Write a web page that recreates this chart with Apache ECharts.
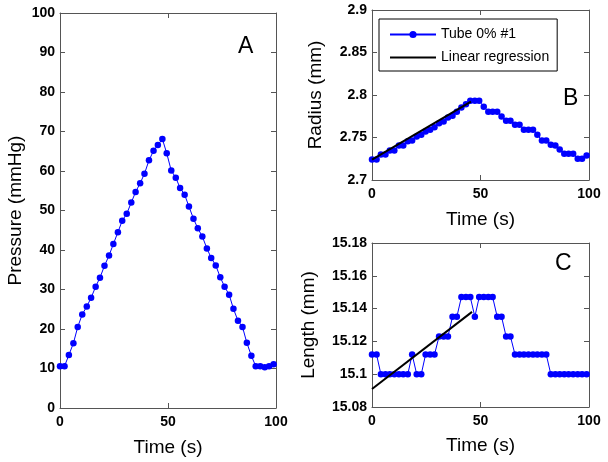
<!DOCTYPE html>
<html><head><meta charset="utf-8">
<script src="https://cdn.jsdelivr.net/npm/echarts@6/dist/echarts.min.js"></script>
<style>html,body{margin:0;padding:0;background:#fff}#c{width:608px;height:462px}</style>
</head><body><div id="c"></div>
<script>
// ---- data ----
const time = [0, 2.1, 4.1, 6.2, 8.2, 10.3, 12.4, 14.4, 16.5, 18.5, 20.6, 22.7, 24.7, 26.8, 28.8, 30.9, 33.0, 35.0, 37.1, 39.1, 41.2, 43.3, 45.3, 47.4, 49.4, 51.5, 53.6, 55.6, 57.7, 59.7, 61.8, 63.8, 65.9, 68.0, 70.0, 72.1, 74.2, 76.2, 78.3, 80.3, 82.4, 84.5, 86.5, 88.6, 90.6, 92.7, 94.8, 96.8, 98.9];
const pressure = [10.6, 10.6, 13.4, 16.4, 20.5, 23.7, 25.7, 27.9, 30.7, 33.0, 36.0, 38.6, 41.5, 44.5, 47.4, 49.2, 52.0, 54.7, 56.9, 59.3, 62.7, 65.1, 66.6, 68.1, 64.5, 60.1, 58.3, 55.7, 54.0, 51.0, 47.9, 45.5, 43.4, 40.4, 38.0, 36.1, 33.1, 30.7, 28.7, 25.1, 22.1, 20.5, 16.5, 13.2, 10.6, 10.6, 10.3, 10.6, 11.1];
const radius = [2.7241, 2.7241, 2.7299, 2.7299, 2.7348, 2.7348, 2.7406, 2.7406, 2.7455, 2.7465, 2.7513, 2.7532, 2.7571, 2.7591, 2.7620, 2.7668, 2.7688, 2.7736, 2.7756, 2.7804, 2.7853, 2.7892, 2.7931, 2.7931, 2.7931, 2.7862, 2.7804, 2.7804, 2.7804, 2.7746, 2.7698, 2.7698, 2.7649, 2.7649, 2.7591, 2.7591, 2.7591, 2.7532, 2.7465, 2.7465, 2.7416, 2.7406, 2.7358, 2.7309, 2.7309, 2.7309, 2.7251, 2.7251, 2.7289];
const lengthMm = [15.112, 15.112, 15.100, 15.100, 15.100, 15.100, 15.100, 15.100, 15.100, 15.112, 15.100, 15.100, 15.112, 15.112, 15.112, 15.123, 15.123, 15.123, 15.135, 15.135, 15.147, 15.147, 15.147, 15.135, 15.147, 15.147, 15.147, 15.147, 15.135, 15.135, 15.123, 15.123, 15.112, 15.112, 15.112, 15.112, 15.112, 15.112, 15.112, 15.112, 15.100, 15.100, 15.100, 15.100, 15.100, 15.100, 15.100, 15.100, 15.100];
const radiusFitTime = [0, 45.6];
const radiusFit = [2.7241, 2.7921];
const lengthFitTime = [0, 46.1];
const lengthFit = [15.091, 15.138];
const timeTicks = [0, 50, 100];
const pressureTicks = [0, 10, 20, 30, 40, 50, 60, 70, 80, 90, 100];
const radiusTicks = [2.7, 2.75, 2.8, 2.85, 2.9];
const lengthTicks = [15.08, 15.1, 15.12, 15.14, 15.16, 15.18];
const seriesName = 'Tube 0% #1';
const fitName = 'Linear regression';

// ---- helpers ----
const FONT = 'Liberation Sans, Arial, Helvetica, sans-serif';
const AX = '#555';
const zip = (xs, ys) => xs.map((x, i) => [x, ys[i]]);
const fmt = v => String(+(+v).toFixed(4));
function range(ticks) {
  return { min: ticks[0], max: ticks[ticks.length - 1], interval: +(ticks[1] - ticks[0]).toFixed(6) };
}
function xAxes(grid, ticks, gap) {
  const r = range(ticks);
  const base = {
    gridIndex: grid, type: 'value', min: r.min, max: r.max, interval: r.interval,
    axisLine: { show: true, onZero: false, lineStyle: { color: AX, width: 1 } },
    axisTick: { show: true, inside: true, length: 5, lineStyle: { color: AX } },
    splitLine: { show: false }
  };
  return [
    Object.assign({}, base, {
      position: 'bottom',
      axisLabel: { show: true, margin: 7, color: '#000', fontSize: 14, fontWeight: 'bold', fontFamily: FONT, formatter: fmt },
      name: 'Time (s)', nameLocation: 'middle', nameGap: gap,
      nameTextStyle: { color: '#000', fontSize: 19, fontFamily: FONT }
    }),
    Object.assign({}, base, { position: 'top', axisLabel: { show: false } })
  ];
}
function yAxes(grid, ticks, title, gap) {
  const r = range(ticks);
  const base = {
    gridIndex: grid, type: 'value', min: r.min, max: r.max, interval: r.interval,
    axisLine: { show: true, onZero: false, lineStyle: { color: AX, width: 1 } },
    axisTick: { show: true, inside: true, length: 5, lineStyle: { color: AX } },
    splitLine: { show: false }
  };
  return [
    Object.assign({}, base, {
      position: 'left',
      axisLabel: { show: true, margin: 5, color: '#000', fontSize: 14, fontWeight: 'bold', fontFamily: FONT, formatter: fmt },
      name: title, nameLocation: 'middle', nameGap: gap,
      nameTextStyle: { color: '#000', fontSize: 19, fontFamily: FONT }
    }),
    Object.assign({}, base, { position: 'right', axisLabel: { show: false } })
  ];
}
function dots(name, xi, yi, data) {
  return {
    name: name, type: 'line', xAxisIndex: xi, yAxisIndex: yi, data: data,
    symbol: 'circle', symbolSize: 6.5, showSymbol: true,
    itemStyle: { color: '#0000ff' }, lineStyle: { color: '#0000ff', width: 1 },
    emphasis: { disabled: true }, z: 2
  };
}
function fit(name, xi, yi, data) {
  return {
    name: name, type: 'line', xAxisIndex: xi, yAxisIndex: yi, data: data,
    symbol: 'none', showSymbol: false,
    itemStyle: { color: '#000' }, lineStyle: { color: '#000', width: 2 },
    emphasis: { disabled: true }, z: 3
  };
}

const chart = echarts.init(document.getElementById('c'), null, { renderer: 'canvas' });
chart.setOption({
  animation: false,
  backgroundColor: '#fff',
  textStyle: { fontFamily: FONT },
  grid: [
    { left: 60, top: 13, width: 216, height: 395 },
    { left: 372, top: 10, width: 217, height: 170 },
    { left: 372, top: 243, width: 217, height: 164 }
  ],
  xAxis: [].concat(xAxes(0, timeTicks, 30), xAxes(1, timeTicks, 30), xAxes(2, timeTicks, 29)),
  yAxis: [].concat(
    yAxes(0, pressureTicks, 'Pressure (mmHg)', 35),
    yAxes(1, radiusTicks, 'Radius (mm)', 47),
    yAxes(2, lengthTicks, 'Length (mm)', 54)
  ),
  legend: {
    data: [
      { name: seriesName },
      { name: fitName, itemStyle: { opacity: 0 } }
    ],
    orient: 'vertical', left: 379, top: 19,
    backgroundColor: '#fff', borderColor: '#000', borderWidth: 1, borderRadius: 0,
    padding: [8, 8, 6, 10], itemGap: 8, itemWidth: 46, itemHeight: 9,
    textStyle: { color: '#000', fontSize: 14, fontFamily: FONT, lineHeight: 15 },
    selectedMode: false
  },
  series: [
    dots('pressureA', 0, 0, zip(time, pressure)),
    dots(seriesName, 2, 2, zip(time, radius)),
    fit(fitName, 2, 2, zip(radiusFitTime, radiusFit)),
    dots('lengthC', 4, 4, zip(time, lengthMm)),
    fit('lengthFitC', 4, 4, zip(lengthFitTime, lengthFit))
  ],
  graphic: [
    { type: 'text', left: 238, top: 35, style: { text: 'A', fontSize: 23, fontFamily: FONT, fill: '#000' } },
    { type: 'text', left: 563, top: 87, style: { text: 'B', fontSize: 23, fontFamily: FONT, fill: '#000' } },
    { type: 'text', left: 555, top: 252, style: { text: 'C', fontSize: 23, fontFamily: FONT, fill: '#000' } }
  ]
});
</script>
</body></html>
